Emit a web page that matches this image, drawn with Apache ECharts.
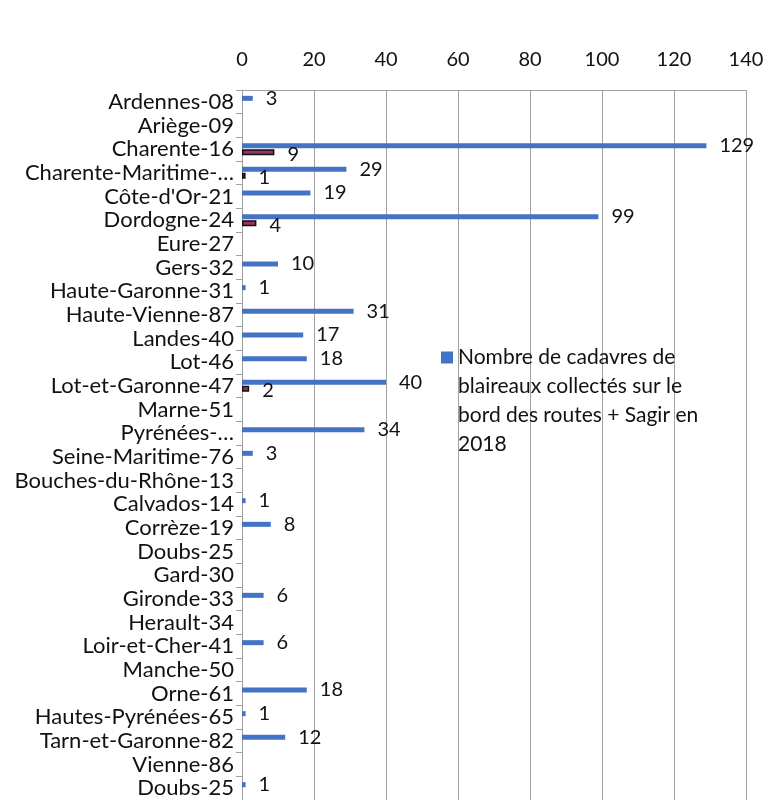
<!DOCTYPE html>
<html>
<head>
<meta charset="utf-8">
<script src="https://cdn.jsdelivr.net/npm/echarts@6/dist/echarts.min.js"></script>
<style>html,body{margin:0;padding:0;background:#fff}#c{width:769px;height:800px}</style>
</head>
<body>
<div id="c"></div>
<script>
var categories = ["Ardennes-08","Ariège-09","Charente-16","Charente-Maritime-…","Côte-d'Or-21","Dordogne-24","Eure-27","Gers-32","Haute-Garonne-31","Haute-Vienne-87","Landes-40","Lot-46","Lot-et-Garonne-47","Marne-51","Pyrénées-…","Seine-Maritime-76","Bouches-du-Rhône-13","Calvados-14","Corrèze-19","Doubs-25","Gard-30","Gironde-33","Herault-34","Loir-et-Cher-41","Manche-50","Orne-61","Hautes-Pyrénées-65","Tarn-et-Garonne-82","Vienne-86","Doubs-25"];
var blueValues = [3,null,129,29,19,99,null,10,1,31,17,18,40,null,34,3,null,1,8,null,null,6,null,6,null,18,1,12,null,1];
var redValues = [null,null,9,1,null,4,null,null,null,null,null,null,2,null,null,null,null,null,null,null,null,null,null,null,null,null,null,null,null,null];
var xTicks = {min:0,max:140,interval:20};
var blueName = "Nombre de cadavres de\nblaireaux collectés sur le\nbord des routes + Sagir en\n2018";
var redName = "Sagir";

var font = "Lato";
var chart = echarts.init(document.getElementById('c'));
chart.setOption({
  animation:false,
  textStyle:{fontFamily:font},
  grid:{left:242,right:23,top:90,bottom:0,containLabel:false},
  legend:{
    data:[blueName],
    left:441, top:256, padding:0,
    icon:'rect', itemWidth:12, itemHeight:12,
    formatter:function(n){return "\n\n\n"+n;},
    textStyle:{fontFamily:font,fontSize:21,color:'#111',lineHeight:29}
  },
  xAxis:{
    type:'value', position:'top', min:xTicks.min, max:xTicks.max, interval:xTicks.interval,
    axisLine:{show:true,lineStyle:{color:'#a0a0a0',width:1}},
    axisTick:{show:false},
    axisLabel:{fontFamily:font,fontSize:20,color:'#111',margin:20},
    splitLine:{show:true,lineStyle:{color:'#a0a0a0',width:1}}
  },
  yAxis:{
    type:'category', inverse:true, data:categories,
    axisLine:{show:true,lineStyle:{color:'#a0a0a0',width:1}},
    axisTick:{show:true,length:6,lineStyle:{color:'#a0a0a0'}},
    axisLabel:{fontFamily:font,fontSize:22,color:'#111',margin:8,interval:0}
  },
  series:[
    {type:'bar', name:blueName, data:blueValues, barWidth:5, barGap:'20%',
     itemStyle:{color:'#4472C4'},
     label:{show:true,position:'right',distance:13,fontFamily:font,fontSize:20,color:'#111'}},
    {type:'bar', name:redName, data:redValues, barWidth:6,
     itemStyle:{color:'#993366',borderColor:'#111',borderWidth:1.5},
     label:{show:true,position:'right',distance:13,fontFamily:font,fontSize:20,color:'#111',offset:[0,2]}}
  ]
});
</script>
</body>
</html>
